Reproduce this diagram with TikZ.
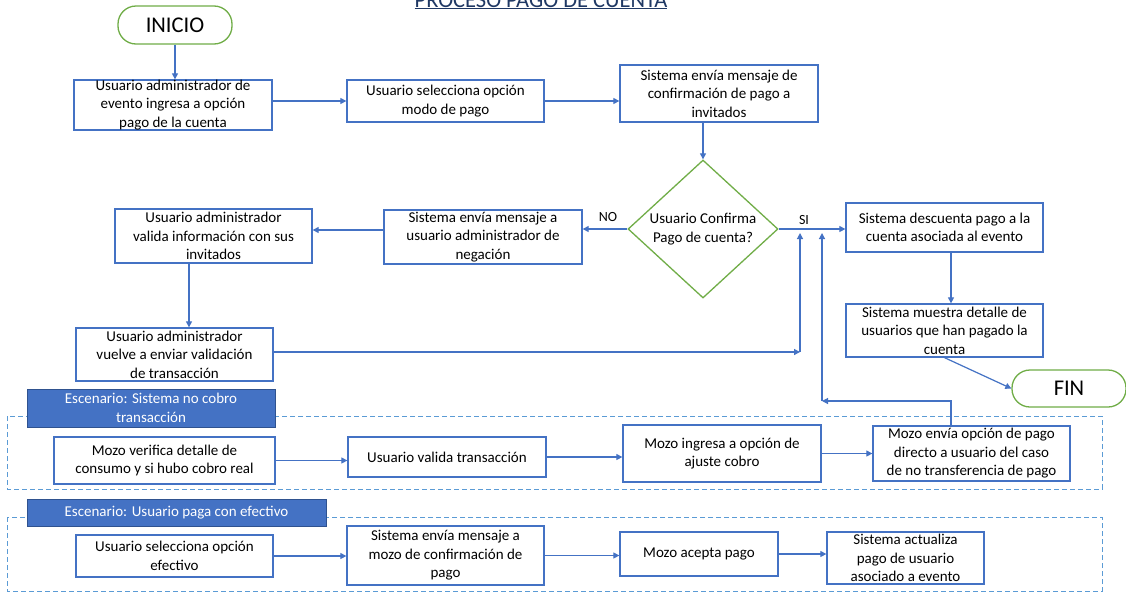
\documentclass[tikz,border=0pt]{standalone}
\usepackage{fontspec}
\setmainfont{Carlito}
\usepackage{xcolor}
\usepackage{tikz}
\usetikzlibrary{shapes.geometric,arrows.meta,positioning,calc}
\definecolor{boxblue}{HTML}{4472C4}
\definecolor{zoneblue}{HTML}{5B9BD5}
\definecolor{termgreen}{HTML}{70AD47}
\definecolor{headborder}{HTML}{2F528F}
\definecolor{titleblue}{HTML}{1F3864}

\begin{document}
\begin{tikzpicture}[x=1pt,y=-1pt,
        font=\fontsize{15}{18.5}\selectfont,
        proc/.style={draw=boxblue, line width=1.3pt, fill=white, align=center, inner sep=0pt},
        term/.style={draw=termgreen, line width=1.3pt, rounded corners=18pt, inner sep=0pt, font=\fontsize{22.5}{27}\selectfont},
        decision/.style={diamond, draw=termgreen, line width=1.3pt, inner sep=0pt, align=center},
        scen/.style={draw=headborder, fill=boxblue, text=white, line width=0.8pt, align=center, inner sep=0pt},
        zone/.style={draw=zoneblue, line width=1pt, dash pattern=on 5pt off 3pt},
        lbl/.style={font=\fontsize{14}{17}\selectfont},
        arr/.style={draw=boxblue, line width=1.2pt, -{Triangle[length=6pt,width=6pt]}}]
        \useasboundingbox[fill=white] (0,0) rectangle (1126,592);
        \node[text=titleblue, font=\fontsize{22.5}{27}\selectfont, anchor=base] (title) at (541,7) {\underline{PROCESO PAGO DE CUENTA}};

        \draw[zone] (7,416) rectangle (1102,489);
        \draw[zone] (7,517) rectangle (1102,591);

        \node[term, minimum width=114pt, minimum height=38pt] (ini) at (175,25) {INICIO};
        \node[proc, minimum width=198pt, minimum height=50pt] (b1) at (173,105) {Usuario administrador de\\evento ingresa a opción\\pago de la cuenta};
        \node[proc, minimum width=197pt, minimum height=42pt] (b2) at (445.5,101) {Usuario selecciona opción\\modo de pago};
        \node[proc, minimum width=198pt, minimum height=57pt] (b3) at (719,93.5) {Sistema envía mensaje de\\confirmación de pago a\\invitados};
        \node[decision, minimum width=150pt, minimum height=117pt] (dec) at (703,229) {Usuario Confirma\\Pago de cuenta?};
        \node[proc, minimum width=198pt, minimum height=54pt] (b4) at (483,237) {Sistema envía mensaje a\\usuario administrador de\\negación};
        \node[proc, minimum width=197pt, minimum height=54pt] (b5) at (213.5,236) {Usuario administrador\\valida información con sus\\invitados};
        \node[proc, minimum width=197pt, minimum height=53pt] (b6) at (174.5,354.5) {Usuario administrador\\vuelve a enviar validación\\de transacción};
        \node[proc, minimum width=197pt, minimum height=49pt] (b7) at (944.5,227.5) {Sistema descuenta pago a la\\cuenta asociada al evento};
        \node[proc, minimum width=197pt, minimum height=53pt] (b8) at (944.5,330.5) {Sistema muestra detalle de\\usuarios que han pagado la\\cuenta};
        \node[term, minimum width=114pt, minimum height=37pt] (fin) at (1069,388.5) {FIN};
        \node[lbl] (no) at (608,217) {NO};
        \node[lbl] (si) at (804,220) {SI};
        \coordinate (j1) at (800,352);
        \coordinate (up1) at (800,233);
        \coordinate (j2) at (822,401);
        \coordinate (up2) at (822,233);

        \node[scen, minimum width=248pt, minimum height=38pt] (sc1) at (151,408) {Escenario: Sistema no cobro\\transacción};
        \node[proc, minimum width=221pt, minimum height=47pt] (b9) at (164.5,460.5) {Mozo verifica detalle de\\consumo y si hubo cobro real};
        \node[proc, minimum width=198pt, minimum height=40pt] (b10) at (447,457) {Usuario valida transacción};
        \node[proc, minimum width=198pt, minimum height=57pt] (b11) at (722,453.5) {Mozo ingresa a opción de\\ajuste cobro};
        \node[proc, minimum width=197pt, minimum height=55pt] (b12) at (971.5,453.5) {Mozo envía opción de pago\\directo a usuario del caso\\de no transferencia de pago};

        \node[scen, minimum width=299pt, minimum height=27pt] (sc2) at (176.5,512.5) {Escenario: Usuario paga con efectivo};
        \node[proc, minimum width=197pt, minimum height=42pt] (b13) at (174.5,556) {Usuario selecciona opción\\efectivo};
        \node[proc, minimum width=197pt, minimum height=59pt] (b14) at (445.5,555.5) {Sistema envía mensaje a\\mozo de confirmación de\\pago};
        \node[proc, minimum width=158pt, minimum height=44pt] (b15) at (699,554) {Mozo acepta pago};
        \node[proc, minimum width=157pt, minimum height=52pt] (b16) at (905.5,558) {Sistema actualiza\\pago de usuario\\asociado a evento};

        \draw[arr] (ini.south) -- (ini.south |- b1.north);
        \draw[arr] (b1.east |- b2.west) -- (b2.west);
        \draw[arr] (b2.east) -- (b2.east -| b3.west);
        \draw[arr] (dec.north |- b3.south) -- (dec.north);
        \draw[arr] (dec.west) -- (dec.west -| b4.east);
        \draw[arr] ([yshift=7pt]b4.west) -- ([yshift=7pt]b4.west -| b5.east);
        \draw[arr] ([xshift=-24.5pt]b5.south) -- ([xshift=-24.5pt]b5.south |- b6.north);
        \draw[arr] (b6.east |- j1) -- (j1);
        \draw[arr] (j1) -- (up1);
        \draw[arr] (dec.east) -- (dec.east -| b7.west);
        \draw[arr] ([xshift=6.5pt]b7.south) -- ([xshift=6.5pt]b7.south |- b8.north);
        \draw[arr] (b8.south) -- (fin.west);
        \draw[arr] (b9.east) -- (b9.east -| b10.west);
        \draw[arr] (b10.east) -- (b10.east -| b11.west);
        \draw[arr] (b11.east) -- (b11.east -| b12.west);
        \draw[arr] ([xshift=-20.5pt]b12.north) |- (j2);
        \draw[arr] (j2) -- (up2);
        \draw[arr] (b13.east) -- (b13.east -| b14.west);
        \draw[arr] (b14.east) -- (b14.east -| b15.west);
        \draw[arr] (b15.east) -- (b15.east -| b16.west);
    \end{tikzpicture}
\end{document}
